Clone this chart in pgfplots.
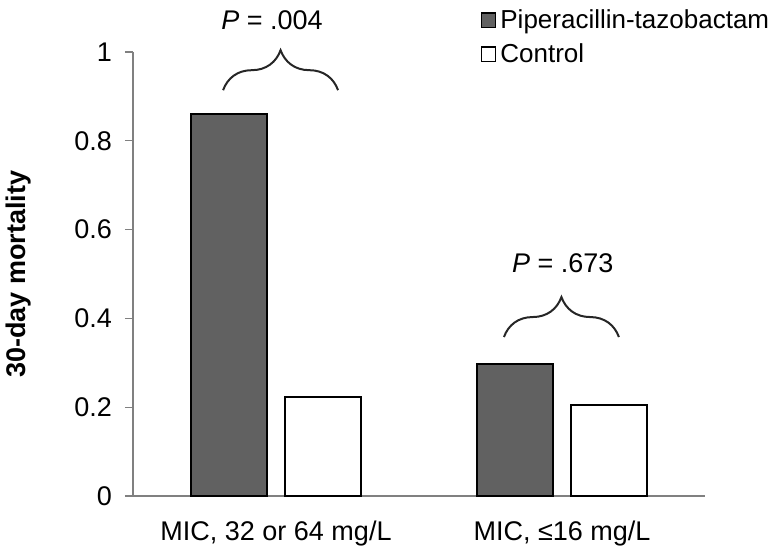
\documentclass[border=0pt]{standalone}
\usepackage{pgfplots}
\pgfplotsset{compat=1.18}
\usepackage{fontspec}
\setmainfont{Liberation Sans}
\usetikzlibrary{decorations.pathreplacing}
\begin{document}
\begin{tikzpicture}
\path[use as bounding box] (-66.5pt,-30pt) rectangle (323.5pt,248pt);
\begin{axis}[
  scale only axis,
  width=286pt, height=222pt,
  at={(0,0)}, anchor=south west,
  xmin=-0.5, xmax=1.5, ymin=0, ymax=1,
  clip=false,
  axis x line=bottom, axis y line=left,
  axis line style={-, draw=black!50, line width=0.7pt},
  tick style={draw=black!50, line width=0.7pt},
  tick align=outside,
  major tick length=4pt,
  font=\fontsize{13.5}{16}\selectfont,
  /pgf/number format/assume math mode=true,
  ytick={0,0.2,0.4,0.6,0.8,1},
  yticklabels={0,0.2,0.4,0.6,0.8,1},
  yticklabel style={xshift=-3pt},
  xtick={0,1},
  xticklabels={{MIC, 32 or 64 mg/L},{MIC, \char"2264 16 mg/L}},
  x tick style={draw=none},
  xticklabel style={yshift=-5pt},
  extra x ticks={-0.5,0.5,1.5},
  extra x tick labels={},
  extra x tick style={tick style={draw=black!50, line width=0.7pt}},
  ylabel={\textbf{30-day mortality}},
  ylabel style={at={(axis description cs:-0.2,0.5)}, anchor=center},
  ybar, bar width=0.266,
  legend style={at={(rel axis cs:0.607,1.106)}, anchor=north west, draw=none, fill=none,
    font=\fontsize{13}{16}\selectfont, row sep=2pt, inner sep=0pt},
  legend cell align=left,
  legend image code/.code={\draw[#1, line width=0.7pt] (-1.5pt,-3.6pt) rectangle (5.7pt,3.6pt);},
]
\addplot[fill=black!62, draw=black, line width=1pt, bar shift=-0.163] coordinates {(0,0.86) (1,0.297)};
\addlegendentry{Piperacillin-tazobactam}
\addplot[fill=white, draw=black, line width=1pt, bar shift=0.163] coordinates {(0,0.223) (1,0.205)};
\addlegendentry{Control}
\draw[decorate, decoration={brace, amplitude=20pt}, line width=1pt, black!85]
  (axis cs:-0.185,0.914) -- (axis cs:0.217,0.914);
\draw[decorate, decoration={brace, amplitude=20pt}, line width=1pt, black!85]
  (axis cs:0.797,0.358) -- (axis cs:1.199,0.358);
\node[font=\fontsize{13.5}{16}\selectfont] at (axis cs:-0.014,1.072) {\textit{P} = .004};
\node[font=\fontsize{13.5}{16}\selectfont] at (axis cs:1.003,0.525) {\textit{P} = .673};
\end{axis}
\end{tikzpicture}
\end{document}
